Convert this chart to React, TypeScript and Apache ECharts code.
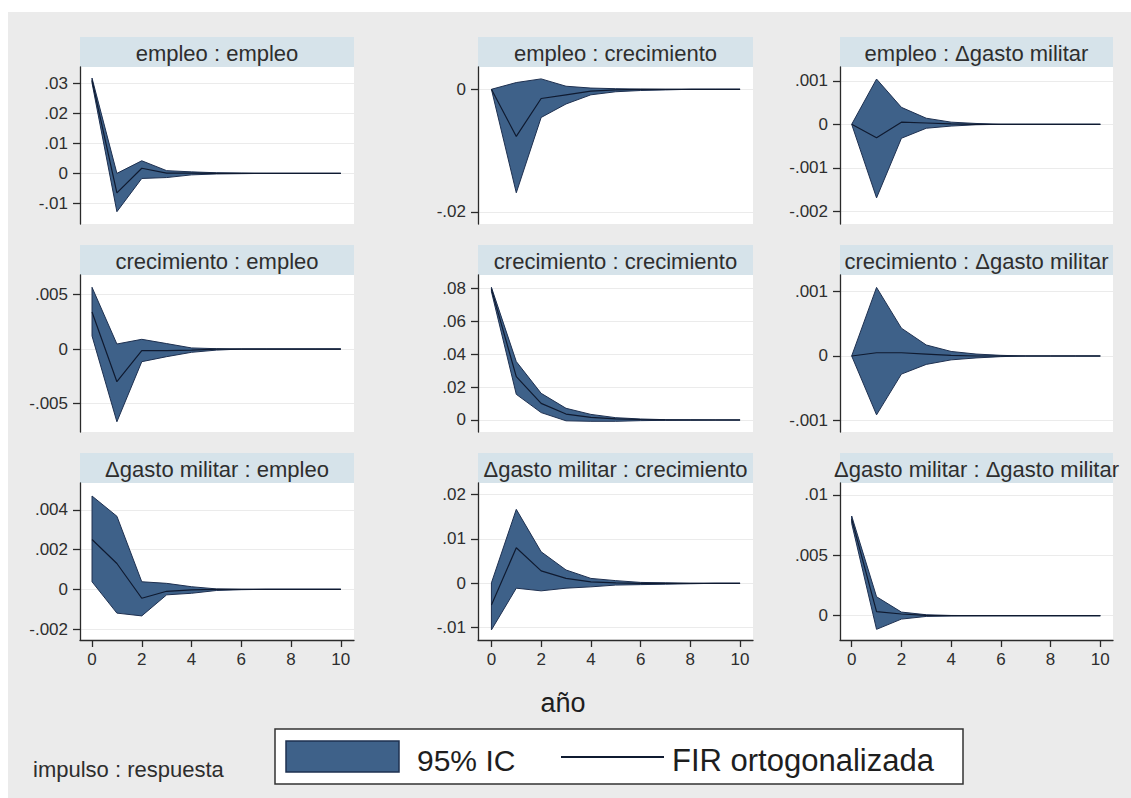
import React, { useEffect, useRef } from "react";
import * as echarts from "echarts";

// ---------- data ----------
const steps = [0, 1, 2, 3, 4, 5, 6, 7, 8, 9, 10];
const xTickValues = [0, 2, 4, 6, 8, 10];

const panelTitles = [
  "empleo : empleo",
  "empleo : crecimiento",
  "empleo : Δgasto militar",
  "crecimiento : empleo",
  "crecimiento : crecimiento",
  "crecimiento : Δgasto militar",
  "Δgasto militar : empleo",
  "Δgasto militar : crecimiento",
  "Δgasto militar : Δgasto militar",
];

// empleo : empleo
const empEmpHi = [0.0318, 0.0, 0.0042, 0.0009, 0.0005, 0.0002, 0.0001, 0, 0, 0, 0];
const empEmpIrf = [0.031, -0.0065, 0.0017, 0.0001, 0.0001, 0.0, 0, 0, 0, 0, 0];
const empEmpLo = [0.0302, -0.0128, -0.0017, -0.0014, -0.0005, -0.0002, -0.0001, 0, 0, 0, 0];
// empleo : crecimiento
const empCreHi = [0, 0.0011, 0.0017, 0.0005, 0.0002, 0.0001, 0.00003, 0, 0, 0, 0];
const empCreIrf = [0, -0.0077, -0.0015, -0.0009, -0.0003, -0.0001, 0, 0, 0, 0, 0];
const empCreLo = [0, -0.0169, -0.0046, -0.0024, -0.0009, -0.0004, -0.0002, -0.0001, 0, 0, 0];
// empleo : Δgasto militar
const empGasHi = [0, 0.00104, 0.00039, 0.00014, 0.00005, 0.00002, 0, 0, 0, 0, 0];
const empGasIrf = [0, -0.00031, 0.00005, 0.00003, 0.00001, 0, 0, 0, 0, 0, 0];
const empGasLo = [0, -0.00169, -0.00032, -0.00009, -0.00004, -0.00001, 0, 0, 0, 0, 0];
// crecimiento : empleo
const creEmpHi = [0.00566, 0.00046, 0.00089, 0.0005, 0.0001, 0.00003, 0, 0, 0, 0, 0];
const creEmpIrf = [0.0034, -0.003, -0.00015, -0.00015, -0.0001, 0, 0, 0, 0, 0, 0];
const creEmpLo = [0.0012, -0.00667, -0.00116, -0.0007, -0.0003, -0.0001, 0, 0, 0, 0, 0];
// crecimiento : crecimiento
const creCreHi = [0.0806, 0.0355, 0.0162, 0.0071, 0.0034, 0.0014, 0.0006, 0.0002, 0.0001, 0, 0];
const creCreIrf = [0.0795, 0.0263, 0.0101, 0.0036, 0.0016, 0.0007, 0.0003, 0.0001, 0, 0, 0];
const creCreLo = [0.078, 0.0156, 0.0045, -0.0005, -0.0008, -0.0008, -0.0004, -0.0002, -0.0001, 0, 0];
// crecimiento : Δgasto militar
const creGasHi = [0, 0.00106, 0.00043, 0.00017, 0.00007, 0.00003, 0.00001, 0, 0, 0, 0];
const creGasIrf = [0, 0.00005, 0.00005, 0.00003, 0.00001, 0, 0, 0, 0, 0, 0];
const creGasLo = [0, -0.00091, -0.00028, -0.00013, -0.00006, -0.00003, -0.00001, 0, 0, 0, 0];
// Δgasto militar : empleo
const gasEmpHi = [0.0047, 0.00368, 0.00038, 0.0003, 0.00013, 0.00002, 0, 0, 0, 0, 0];
const gasEmpIrf = [0.00251, 0.0013, -0.00045, -0.0001, -0.00003, 0, 0, 0, 0, 0, 0];
const gasEmpLo = [0.00038, -0.0012, -0.00134, -0.00028, -0.0002, -0.00006, -0.00002, 0, 0, 0, 0];
// Δgasto militar : crecimiento
const gasCreHi = [0.0001, 0.01665, 0.0071, 0.003, 0.0011, 0.0006, 0.0002, 0.0001, 0, 0, 0];
const gasCreIrf = [-0.0049, 0.008, 0.0028, 0.0011, 0.0003, 0.0001, 0, 0, 0, 0, 0];
const gasCreLo = [-0.0105, -0.0011, -0.0017, -0.0011, -0.0008, -0.0004, -0.0003, -0.0002, -0.0001, 0, 0];
// Δgasto militar : Δgasto militar
const gasGasHi = [0.00826, 0.00157, 0.0003, 0.00008, 0.00002, 0.00001, 0, 0, 0, 0, 0];
const gasGasIrf = [0.008, 0.00033, 0.00014, 0.00002, 0, 0, 0, 0, 0, 0, 0];
const gasGasLo = [0.00765, -0.00113, -0.00028, -0.00006, -0.00002, -0.00001, 0, 0, 0, 0, 0];

// y tick labels per panel
const yTicks11 = [-0.01, 0, 0.01, 0.02, 0.03];
const yTicks12 = [-0.02, 0];
const yTicks13 = [-0.002, -0.001, 0, 0.001];
const yTicks21 = [-0.005, 0, 0.005];
const yTicks22 = [0, 0.02, 0.04, 0.06, 0.08];
const yTicks23 = [-0.001, 0, 0.001];
const yTicks31 = [-0.002, 0, 0.002, 0.004];
const yTicks32 = [-0.01, 0, 0.01, 0.02];
const yTicks33 = [0, 0.005, 0.01];

// axis ranges per panel
const yRanges = [
  [-0.0169, 0.0355],
  [-0.022, 0.00364],
  [-0.00229, 0.001317],
  [-0.00761, 0.00679],
  [-0.0073, 0.0881],
  [-0.001175, 0.001252],
  [-0.002554, 0.005355],
  [-0.01277, 0.02259],
  [-0.002013, 0.010994],
];
const xRanges = [
  [-0.483, 10.53],
  [-0.54, 10.52],
  [-0.47, 10.51],
];

const panels = [
  { hi: empEmpHi, irf: empEmpIrf, lo: empEmpLo, ticks: yTicks11 },
  { hi: empCreHi, irf: empCreIrf, lo: empCreLo, ticks: yTicks12 },
  { hi: empGasHi, irf: empGasIrf, lo: empGasLo, ticks: yTicks13 },
  { hi: creEmpHi, irf: creEmpIrf, lo: creEmpLo, ticks: yTicks21 },
  { hi: creCreHi, irf: creCreIrf, lo: creCreLo, ticks: yTicks22 },
  { hi: creGasHi, irf: creGasIrf, lo: creGasLo, ticks: yTicks23 },
  { hi: gasEmpHi, irf: gasEmpIrf, lo: gasEmpLo, ticks: yTicks31 },
  { hi: gasCreHi, irf: gasCreIrf, lo: gasCreLo, ticks: yTicks32 },
  { hi: gasGasHi, irf: gasGasIrf, lo: gasGasLo, ticks: yTicks33 },
];

// ---------- layout / style ----------
const W = 1131;
const H = 798;
const colLeft = [80, 478, 840];
const colRight = [354, 753, 1113];
const rowTop = [67, 275, 483];
const rowBottom = [224, 432, 640];
const stripH = 30;
const FONT = "Liberation Sans, Arial, sans-serif";
const BAND = "#3e6189";
const BAND_EDGE = "#1e3050";
const IRF = "#0f1a30";
const AXIS = "#2a2a2a";
const TEXT = "#2e2e2e";

const fmt = (v: number) => {
  if (Math.abs(v) < 1e-12) return "0";
  const s = parseFloat(Math.abs(v).toPrecision(6)).toString().replace(/^0/, "");
  return (v < 0 ? "-" : "") + s;
};

export default function App() {
  const ref = useRef<HTMLDivElement>(null);

  useEffect(() => {
    document.body.style.margin = "0";
    if (!ref.current) return;
    const chart = echarts.init(ref.current, undefined, { renderer: "svg" });

    const grids: any[] = [];
    const xAxes: any[] = [];
    const yAxes: any[] = [];
    const series: any[] = [];
    const graphics: any[] = [
      {
        type: "rect",
        z: -100,
        shape: { x: 8, y: 12, width: W - 8, height: H - 12 },
        style: { fill: "#ebebeb" },
        silent: true,
      },
    ];

    panels.forEach((p, i) => {
      const r = Math.floor(i / 3);
      const c = i % 3;
      const left = colLeft[c];
      const width = colRight[c] - colLeft[c];
      const top = rowTop[r];
      const height = rowBottom[r] - rowTop[r];
      grids.push({
        left,
        top,
        width,
        height,
        show: true,
        backgroundColor: "#ffffff",
        borderWidth: 0,
      });
      xAxes.push({
        type: "value",
        gridIndex: i,
        min: xRanges[c][0],
        max: xRanges[c][1],
        show: r === 2,
        axisLine: { show: true, onZero: false, lineStyle: { color: AXIS, width: 1.3 } },
        axisTick: { show: true, length: 7, customValues: xTickValues, lineStyle: { color: AXIS, width: 1.3 } },
        axisLabel: {
          customValues: xTickValues,
          fontSize: 17,
          color: TEXT,
          fontFamily: FONT,
          margin: 11,
        },
        splitLine: { show: false },
      });
      yAxes.push({
        type: "value",
        gridIndex: i,
        min: yRanges[i][0],
        max: yRanges[i][1],
        axisLine: { show: true, onZero: false, lineStyle: { color: AXIS, width: 1.3 } },
        axisTick: { show: true, length: 7, customValues: p.ticks, lineStyle: { color: AXIS, width: 1.3 } },
        axisLabel: {
          customValues: p.ticks,
          formatter: fmt,
          fontSize: 17,
          color: TEXT,
          fontFamily: FONT,
          margin: 12,
        },
        splitLine: { show: true, lineStyle: { color: "#ebebeb", width: 1 } },
      });
      // 95% confidence band drawn as one polygon through the axis scales
      series.push({
        name: "95% IC",
        type: "custom",
        xAxisIndex: i,
        yAxisIndex: i,
        data: [[0, 0]],
        clip: true,
        silent: true,
        renderItem: (_params: any, api: any) => {
          const upper = steps.map((s, k) => api.coord([s, p.hi[k]]));
          const lower = steps.map((s, k) => api.coord([s, p.lo[k]]));
          const pts = upper.concat(lower.slice().reverse());
          return {
            type: "polygon",
            shape: { points: pts },
            style: { fill: BAND, stroke: BAND_EDGE, lineWidth: 1, lineJoin: "round" },
          };
        },
        z: 2,
      });
      series.push({
        name: "FIR ortogonalizada",
        type: "line",
        xAxisIndex: i,
        yAxisIndex: i,
        symbol: "none",
        silent: true,
        data: steps.map((s, k) => [s, p.irf[k]]),
        lineStyle: { color: IRF, width: 1.2 },
        z: 3,
      });

      graphics.push({
        type: "rect",
        shape: { x: left, y: top - stripH, width, height: stripH },
        style: { fill: "#d6e3ea" },
        silent: true,
      });
      graphics.push({
        type: "text",
        x: left + width / 2,
        y: top - stripH / 2 + 1,
        style: {
          text: panelTitles[i],
          fontSize: 22,
          fontFamily: FONT,
          fill: TEXT,
          align: "center",
          verticalAlign: "middle",
        },
        silent: true,
        z: 5,
      });
    });

    // x axis title
    graphics.push({
      type: "text",
      x: 563,
      y: 703,
      style: { text: "año", fontSize: 27, fontFamily: FONT, fill: "#1e1e1e", align: "center", verticalAlign: "middle" },
      silent: true,
    });
    // note
    graphics.push({
      type: "text",
      x: 33,
      y: 769,
      style: { text: "impulso : respuesta", fontSize: 22, fontFamily: FONT, fill: TEXT, align: "left", verticalAlign: "middle" },
      silent: true,
    });
    // legend
    graphics.push({
      type: "rect",
      shape: { x: 275, y: 729, width: 688, height: 55 },
      style: { fill: "#ffffff", stroke: "#333333", lineWidth: 1.5 },
      silent: true,
    });
    graphics.push({
      type: "rect",
      shape: { x: 286, y: 741, width: 113, height: 31 },
      style: { fill: BAND, stroke: BAND_EDGE, lineWidth: 1.5 },
      silent: true,
      z: 2,
    });
    graphics.push({
      type: "text",
      x: 417,
      y: 760,
      style: { text: "95% IC", fontSize: 30, fontFamily: FONT, fill: "#1e1e1e", align: "left", verticalAlign: "middle" },
      silent: true,
      z: 2,
    });
    graphics.push({
      type: "line",
      shape: { x1: 561, y1: 757, x2: 664, y2: 757 },
      style: { stroke: IRF, lineWidth: 2 },
      silent: true,
      z: 2,
    });
    graphics.push({
      type: "text",
      x: 672,
      y: 760,
      style: { text: "FIR ortogonalizada", fontSize: 31, fontFamily: FONT, fill: "#1e1e1e", align: "left", verticalAlign: "middle" },
      silent: true,
      z: 2,
    });

    chart.setOption({
      animation: false,
      backgroundColor: "#ffffff",
      grid: grids,
      xAxis: xAxes,
      yAxis: yAxes,
      series,
      graphic: { elements: graphics },
    });

    return () => chart.dispose();
  }, []);

  return <div ref={ref} style={{ width: W, height: H }} />;
}
